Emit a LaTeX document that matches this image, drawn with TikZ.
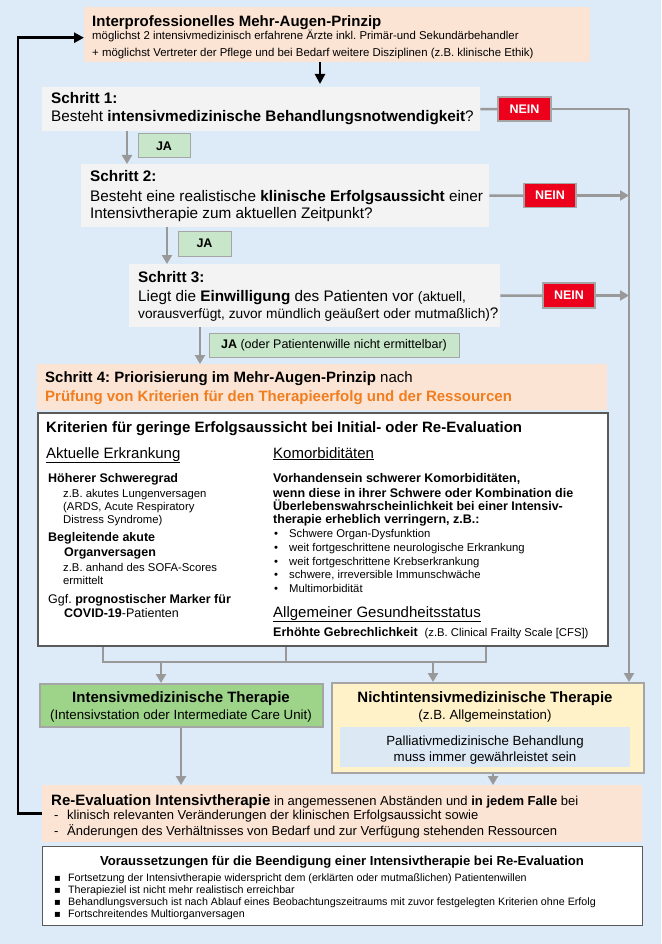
\documentclass[tikz,border=0pt]{standalone}
\usepackage{fontspec}
\setmainfont{Liberation Sans}
\newfontfamily\dejavu{DejaVu Sans}
\usetikzlibrary{arrows.meta}
\frenchspacing
\definecolor{bgblue}{RGB}{221,234,248}
\definecolor{orangefill}{RGB}{252,228,212}
\definecolor{greyfill}{RGB}{243,243,243}
\definecolor{jafill}{RGB}{200,230,201}
\definecolor{neinred}{RGB}{236,0,28}
\definecolor{greenfill}{RGB}{157,212,138}
\definecolor{yellowfill}{RGB}{255,242,200}
\definecolor{pallfill}{RGB}{220,233,245}
\definecolor{orangetext}{RGB}{240,125,30}
\definecolor{linegrey}{RGB}{153,153,153}
\definecolor{boxgrey}{RGB}{165,165,165}
\definecolor{darkframe}{RGB}{90,90,90}
\newcommand\fsz[1]{\fontsize{#1pt}{#1pt}\selectfont}
\newcommand\bx[6]{\node[#1, anchor=north west, inner sep=0pt, minimum width={#5pt-#3pt}, minimum height={#6pt-#4pt}] (#2) at (#3,#4) {};}
\newcommand\tline[4]{\node[anchor=base west, inner sep=0pt] (#1) at (#2,#3) {#4};}
\newcommand\tcen[4]{\node[anchor=base, inner sep=0pt] (#1) at (#2,#3) {#4};}
\begin{document}
\begin{tikzpicture}[x=1pt,y=-1pt,
  orangebox/.style={fill=orangefill},
  greybox/.style={fill=greyfill},
  critbox/.style={fill=white, draw=darkframe, line width=1.8pt},
  vorbox/.style={fill=white, draw=darkframe, line width=1.4pt},
  greenbox/.style={fill=greenfill, draw=boxgrey, line width=1.5pt},
  yellowbox/.style={fill=yellowfill, draw=boxgrey, line width=1.5pt},
  pallbox/.style={fill=pallfill},
  jabox/.style={fill=jafill, draw=boxgrey, line width=1pt, font=\fsz{12.5}\bfseries, inner sep=0pt},
  neinbox/.style={fill=neinred, draw=boxgrey, line width=1.2pt, text=white, font=\fsz{12.5}\bfseries, inner sep=0pt},
  gline/.style={draw=linegrey, line width=2.5pt},
  garrow/.style={gline, -{Triangle[width=10pt,length=9pt]}},
  bline/.style={draw=black, line width=2.5pt, -{Triangle[width=10pt,length=10pt]}}
]
\useasboundingbox (0,0) rectangle (661,944);
\fill[bgblue] (0,0) rectangle (661,944);

% boxes
\bx{orangebox}{top}{84}{7}{590}{62}
\bx{greybox}{s1}{42}{87}{480}{131}
\bx{greybox}{s2}{81}{164}{489}{227}
\bx{greybox}{s3}{129}{264}{500}{327}
\bx{orangebox}{s4}{37}{364}{607}{410}
\bx{critbox}{crit}{37}{412}{607}{645}
\bx{greenbox}{icu}{39}{683}{322}{726}
\bx{yellowbox}{nicu}{331}{682}{643}{772}
\bx{pallbox}{pall}{340}{727}{630}{767}
\bx{orangebox}{reeval}{42}{785}{642}{842}
\bx{vorbox}{vor}{42}{846}{642}{925}

\node[jabox, minimum width=52pt, minimum height=24pt] (ja1) at (164,146) {JA};
\node[jabox, minimum width=53pt, minimum height=25pt] (ja2) at (204.5,243.5) {JA};
\node[jabox, minimum width=250pt, minimum height=24pt] (ja3) at (334,345) {JA {\mdseries (oder Patientenwille nicht ermittelbar)}};
\node[neinbox, minimum width=53pt, minimum height=24pt] (n1) at (524.5,109) {NEIN};
\node[neinbox, minimum width=52pt, minimum height=24pt] (n2) at (550,195.5) {NEIN};
\node[neinbox, minimum width=52pt, minimum height=25pt] (n3) at (569,295.5) {NEIN};

% coordinates
\coordinate (rv) at (629,109);
\coordinate (a0) at (320,0);
\coordinate (a1) at (127,0);
\coordinate (a2) at (167,0);
\coordinate (a3) at (200,0);
\coordinate (b1) at (103,662);
\coordinate (b2) at (286,662);
\coordinate (b3) at (486,662);
\coordinate (c1) at (161,662);
\coordinate (c2) at (433,662);
\coordinate (d1) at (181,0);
\coordinate (d2) at (493,0);
\coordinate (fb) at (18,0);

% connectors
\draw[bline, shorten >=3pt] (top.south -| a0) -- (s1.north -| a0);
\draw[gline] (s1.east) -- (n1.west);
\draw[gline] (n1.east) -- (rv);
\draw[garrow] (rv) -- (rv |- nicu.north);
\draw[gline] (s2.east) -- (n2.west);
\draw[garrow] (n2.east) -- (n2.east -| rv);
\draw[gline] (s3.east) -- (n3.west);
\draw[garrow] (n3.east) -- (n3.east -| rv);
\draw[garrow] (s1.south -| a1) -- (s2.north -| a1);
\draw[garrow] (s2.south -| a2) -- (s3.north -| a2);
\draw[garrow] (s3.south -| a3) -- (s4.north -| a3);
\draw[gline] (crit.south -| b1) -- (b1) -- (b3) -- (crit.south -| b3);
\draw[gline] (crit.south -| b2) -- (b2);
\draw[garrow] (c1) -- (c1 |- icu.north);
\draw[garrow] (c2) -- (c2 |- nicu.north);
\draw[garrow] (icu.south -| d1) -- (reeval.north -| d1);
\draw[garrow] (nicu.south -| d2) -- (reeval.north -| d2);
\draw[bline] (reeval.west) -- (reeval.west -| fb) -- ([yshift=-3pt]top.west -| fb) -- ([yshift=-3pt]top.west);

% texts: top
\tline{t1}{92}{27}{\fsz{15}\bfseries Interprofessionelles Mehr-Augen-Prinzip}
\tline{t2}{92}{40}{\fsz{11.4}möglichst 2 intensivmedizinisch erfahrene Ärzte inkl. Primär-und Sekundärbehandler}
\tline{t3}{92}{57}{\fsz{11.4}+ möglichst Vertreter der Pflege und bei Bedarf weitere Disziplinen (z.B. klinische Ethik)}
% steps
\tline{s1a}{51}{104}{\fsz{15.3}\bfseries Schritt 1:}
\tline{s1b}{51}{122}{\fsz{15.3}Besteht \textbf{intensivmedizinische Behandlungsnotwendigkeit}?}
\tline{s2a}{90}{182}{\fsz{15.3}\bfseries Schritt 2:}
\tline{s2b}{90}{201}{\fsz{15.3}Besteht eine realistische \textbf{klinische Erfolgsaussicht} einer}
\tline{s2c}{90}{218}{\fsz{15.3}Intensivtherapie zum aktuellen Zeitpunkt?}
\tline{s3a}{138}{282}{\fsz{15.3}\bfseries Schritt 3:}
\tline{s3b}{138}{301}{\fsz{15.3}Liegt die \textbf{Einwilligung} des Patienten vor {\fsz{13.7}(aktuell,}}
\tline{s3c}{138}{318}{\fsz{13.7}vorausverfügt, zuvor mündlich geäußert oder mutmaßlich){\fsz{15.3}?}}
\tline{s4a}{45}{382}{\fsz{15}\textbf{Schritt 4: Priorisierung im Mehr-Augen-Prinzip} nach}
\tline{s4b}{45}{401}{\fsz{15}\bfseries\color{orangetext}Prüfung von Kriterien für den Therapieerfolg und der Ressourcen}
% criteria
\tline{k0}{46}{432}{\fsz{15}\bfseries Kriterien für geringe Erfolgsaussicht bei Initial- oder Re-Evaluation}
\tline{kl0}{46}{458}{\fsz{15}\underline{Aktuelle Erkrankung}}
\tline{kr0}{273}{458}{\fsz{15}\underline{Komorbiditäten}}
\tline{kl1}{48}{482}{\fsz{12.5}\bfseries Höherer Schweregrad}
\tline{kl2}{63}{497}{\fsz{11.3}z.B. akutes Lungenversagen}
\tline{kl3}{63}{510}{\fsz{11.3}(ARDS, Acute Respiratory}
\tline{kl4}{63}{523}{\fsz{11.3}Distress Syndrome)}
\tline{kl5}{48}{541}{\fsz{12.5}\bfseries Begleitende akute}
\tline{kl6}{64}{556}{\fsz{12.5}\bfseries Organversagen}
\tline{kl7}{63}{571}{\fsz{11.3}z.B. anhand des SOFA-Scores}
\tline{kl8}{63}{584}{\fsz{11.3}ermittelt}
\tline{kl9}{48}{603}{\fsz{12.5}Ggf. \textbf{prognostischer Marker für}}
\tline{kl10}{64}{617}{\fsz{12.5}\textbf{COVID-19}-Patienten}
\tline{kr1}{273}{482}{\fsz{12.5}\bfseries Vorhandensein schwerer Komorbiditäten,}
\tline{kr2}{273}{497}{\fsz{12.5}\bfseries wenn diese in ihrer Schwere oder Kombination die}
\tline{kr3}{273}{510}{\fsz{12.5}\bfseries Überlebenswahrscheinlichkeit bei einer Intensiv-}
\tline{kr4}{273}{523}{\fsz{12.5}\bfseries therapie erheblich verringern, z.B.:}
\tline{kb1}{274}{537}{\fsz{11.3}\makebox[15pt][l]{•}Schwere Organ-Dysfunktion}
\tline{kb2}{274}{551}{\fsz{11.3}\makebox[15pt][l]{•}weit fortgeschrittene neurologische Erkrankung}
\tline{kb3}{274}{565}{\fsz{11.3}\makebox[15pt][l]{•}weit fortgeschrittene Krebserkrankung}
\tline{kb4}{274}{578}{\fsz{11.3}\makebox[15pt][l]{•}schwere, irreversible Immunschwäche}
\tline{kb5}{274}{592}{\fsz{11.3}\makebox[15pt][l]{•}Multimorbidität}
\tline{kr5}{273}{617}{\fsz{15}\underline{Allgemeiner Gesundheitsstatus}}
\tline{kr6}{273}{636}{\fsz{12.5}\textbf{Erhöhte Gebrechlichkeit}\ \ {\fsz{11.3}(z.B. Clinical Frailty Scale [CFS])}}
% therapy boxes
\tcen{icut}{181}{702}{\fsz{15}\bfseries Intensivmedizinische Therapie}
\tcen{icus}{181}{719}{\fsz{13.3}(Intensivstation oder Intermediate Care Unit)}
\tcen{nicut}{485}{702}{\fsz{15}\bfseries Nichtintensivmedizinische Therapie}
\tcen{nicus}{485}{719}{\fsz{13.3}(z.B. Allgemeinstation)}
\tcen{pall1}{485}{745}{\fsz{13.3}Palliativmedizinische Behandlung}
\tcen{pall2}{485}{761}{\fsz{13.3}muss immer gewährleistet sein}
% re-evaluation
\tline{r1}{51}{805}{\fsz{15}\textbf{Re-Evaluation Intensivtherapie}\fsz{13} in angemessenen Abständen und \textbf{in jedem Falle} bei}
\tline{r2}{54}{819}{\fsz{13}\makebox[13pt][l]{-}klinisch relevanten Veränderungen der klinischen Erfolgsaussicht sowie}
\tline{r3}{54}{835}{\fsz{13}\makebox[13pt][l]{-}Änderungen des Verhältnisses von Bedarf und zur Verfügung stehenden Ressourcen}
% conditions
\tcen{v0}{342}{865}{\fsz{13.1}\bfseries Voraussetzungen für die Beendigung einer Intensivtherapie bei Re-Evaluation}
\tline{v1}{54}{881.5}{\fsz{10.7}\makebox[14pt][l]{\dejavu\fsz{10}▪}Fortsetzung der Intensivtherapie widerspricht dem (erklärten oder mutmaßlichen) Patientenwillen}
\tline{v2}{54}{893}{\fsz{10.7}\makebox[14pt][l]{\dejavu\fsz{10}▪}Therapieziel ist nicht mehr realistisch erreichbar}
\tline{v3}{54}{905.5}{\fsz{10.7}\makebox[14pt][l]{\dejavu\fsz{10}▪}Behandlungsversuch ist nach Ablauf eines Beobachtungszeitraums mit zuvor festgelegten Kriterien ohne Erfolg}
\tline{v4}{54}{917}{\fsz{10.7}\makebox[14pt][l]{\dejavu\fsz{10}▪}Fortschreitendes Multiorganversagen}
\end{tikzpicture}
\end{document}
